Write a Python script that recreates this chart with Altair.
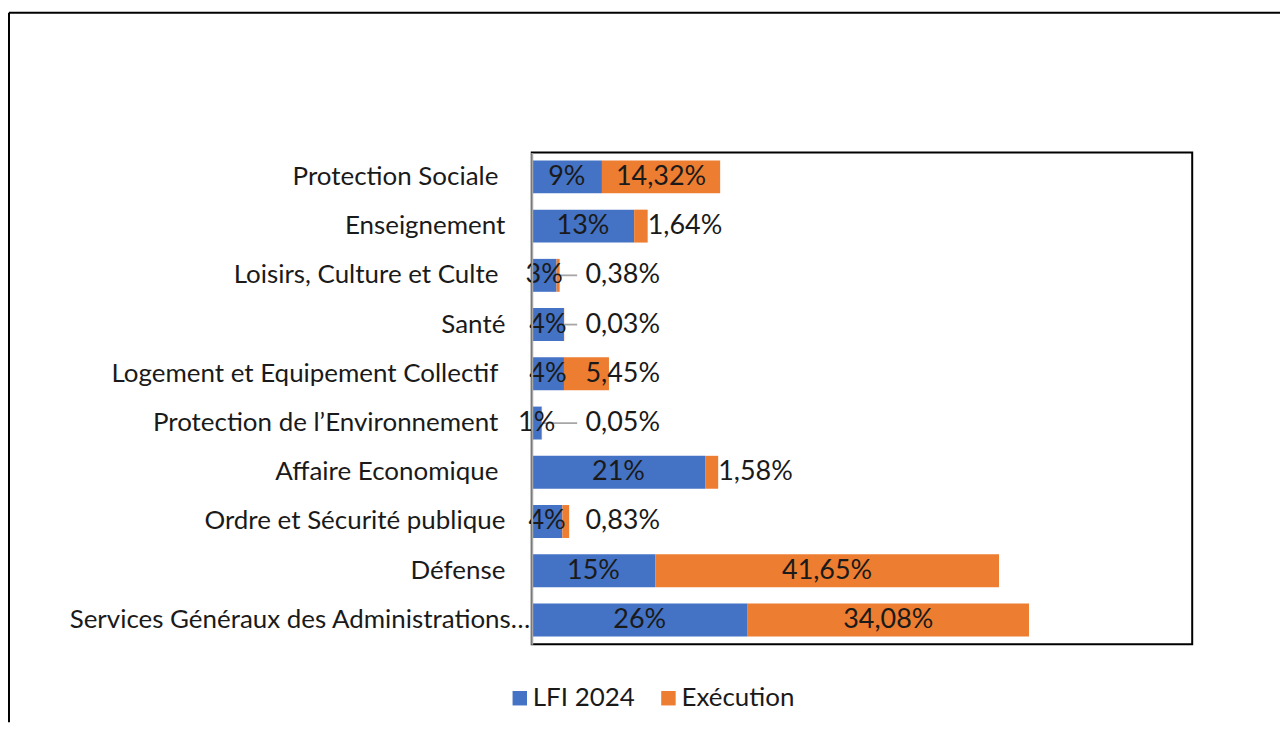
import altair as alt
import pandas as pd

categories = [
    "Protection Sociale",
    "Enseignement",
    "Loisirs, Culture et Culte",
    "Santé",
    "Logement et Equipement Collectif",
    "Protection de l’Environnement",
    "Affaire Economique",
    "Ordre et Sécurité publique",
    "Défense",
    "Services Généraux des Administrations…",
]
lfi_values = [8.5, 12.4, 3.0, 3.9, 3.9, 1.2, 21.0, 3.7, 14.95, 26.15]
lfi_labels = ["9%", "13%", "3%", "4%", "4%", "1%", "21%", "4%", "15%", "26%"]
exec_values = [14.32, 1.64, 0.38, 0.03, 5.45, 0.05, 1.58, 0.83, 41.65, 34.08]
series_names = ["LFI 2024", "Exécution"]
series_colors = ["#4472C4", "#ED7D31"]

rows = []
for c, v, lab in zip(categories, lfi_values, lfi_labels):
    rows.append({"category": c, "series": series_names[0], "value": v, "order": 0, "label": lab})
for c, v in zip(categories, exec_values):
    rows.append({"category": c, "series": series_names[1], "value": v, "order": 1,
                 "label": f"{v:.2f}".replace(".", ",") + "%"})
df = pd.DataFrame(rows)

W, H = 662, 493
PL, PT, PR, PB = 525, 144, 88, 78
FONT = "Lato"
TXT = "#1a1a1a"

wide_gap = [categories[i] for i in (0, 2, 4, 5, 6)]
wide_test = " || ".join(f"datum.value == '{c}'" for c in wide_gap)

x_scale = alt.Scale(domain=[0, 80], nice=False, zero=True)
y_enc = alt.Y(
    "category:N",
    sort=categories,
    scale=alt.Scale(paddingInner=0.33, paddingOuter=0.16),
    axis=alt.Axis(
        title=None,
        ticks=False,
        grid=False,
        domainColor="#a6a6a6",
        domainWidth=2,
        labelFont=FONT,
        labelFontSize=26,
        labelColor=TXT,
        labelPadding={
            "condition": [
                {"test": f"datum.value == '{categories[9]}'", "value": 2},
                {"test": wide_test, "value": 34},
            ],
            "value": 27,
        },
        labelLimit=600,
        zindex=1,
    ),
)

base = alt.Chart(df).transform_stack(
    stack="value", groupby=["category"], as_=["v0", "v1"],
    sort=[alt.SortField("order", "ascending")],
)

bars = base.mark_bar(size=33).encode(
    x=alt.X("v0:Q", scale=x_scale, axis=None),
    x2="v1:Q",
    y=y_enc,
    color=alt.Color(
        "series:N",
        scale=alt.Scale(domain=series_names, range=series_colors),
        legend=alt.Legend(
            title=None,
            orient="none",
            legendX=-25,
            legendY=534,
            direction="horizontal",
            symbolType="square",
            symbolSize=210,
            symbolStrokeWidth=0,
            labelFont=FONT,
            labelFontSize=26,
            labelColor=TXT,
            labelOffset=0,
            columnPadding=20,
        ),
    ),
    order=alt.Order("order:Q"),
)

FS = 27
lfi_text = base.transform_filter("datum.order == 0").transform_calculate(
    mid="(datum.v0 + datum.v1) / 2"
).mark_text(font=FONT, fontSize=FS, color=TXT, align="center", baseline="middle").encode(
    x=alt.X("mid:Q", scale=x_scale, axis=None), y=y_enc, text="label:N"
)

exec_big = base.transform_filter("datum.order == 1 && datum.value >= 10").transform_calculate(
    mid="(datum.v0 + datum.v1) / 2"
).mark_text(font=FONT, fontSize=FS, color=TXT, align="center", baseline="middle").encode(
    x=alt.X("mid:Q", scale=x_scale, axis=None), y=y_enc, text="label:N"
)

exec_small = base.transform_filter("datum.order == 1 && datum.value < 10").transform_calculate(
    lx="datum.v1 < 10 ? 6.5 : datum.v1"
).mark_text(font=FONT, fontSize=FS, color=TXT, align="left", baseline="middle").encode(
    x=alt.X("lx:Q", scale=x_scale, axis=None), y=y_enc, text="label:N"
)

leaders = base.transform_filter("datum.order == 1 && (6.5 - datum.v1) > 2").transform_calculate(
    lx2="5.5"
).mark_rule(color="#a6a6a6", strokeWidth=1.8).encode(
    x=alt.X("v1:Q", scale=x_scale, axis=None), x2="lx2:Q", y=y_enc
)

one = pd.DataFrame({"k": [0]})
frame = alt.Chart(one).mark_rect(fillOpacity=0, stroke="black", strokeWidth=2).encode(
    x=alt.value(0), x2=alt.value(W), y=alt.value(0), y2=alt.value(H)
)
outer_left = alt.Chart(one).mark_rule(color="black", strokeWidth=2).encode(
    x=alt.value(-PL + 1), y=alt.value(-PT + 4), y2=alt.value(H + PB)
)
outer_top = alt.Chart(one).mark_rule(color="black", strokeWidth=2).encode(
    x=alt.value(-PL + 1), x2=alt.value(W + PR), y=alt.value(-PT + 4)
)

chart = alt.layer(
    bars, leaders, lfi_text, exec_big, exec_small, frame, outer_left, outer_top
).properties(
    width=W,
    height=H,
    padding={"left": PL, "top": PT, "right": PR, "bottom": PB},
    autosize=alt.AutoSizeParams(type="none"),
    background="white",
).configure_view(stroke=None)

chart.save("out.html", embed_options={"renderer": "svg", "actions": False})
